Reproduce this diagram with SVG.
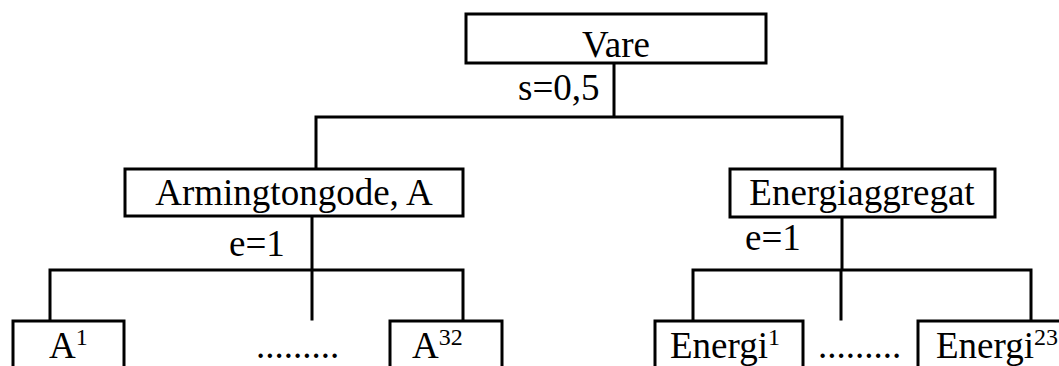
<svg xmlns="http://www.w3.org/2000/svg" width="1059" height="366" viewBox="0 0 1059 366">
<style>
.box{fill:#fff;stroke:#000;stroke-width:3}
.ln{fill:none;stroke:#000;stroke-width:3;stroke-linecap:square}
text{font-family:"Liberation Serif","Times New Roman",serif;font-size:37px;fill:#000}
.mid{text-anchor:middle}
.sup{font-size:24px}
</style>
<rect width="1059" height="366" fill="#fff"/>
<g id="connectors">
<path class="ln" d="M614,63 V117 M316,117 H842 M316,117 V169 M842,117 V169"/>
<path class="ln" d="M312,216 V270 M50,270 H463 M50,270 V321 M312,270 V319 M463,270 V321"/>
<path class="ln" d="M842,217 V270 M693,270 H1031 M693,270 V321 M841,270 V319 M1031,270 V321"/>
</g>
<g id="vare">
<rect class="box" x="466" y="14" width="300" height="49"/>
<text class="mid" x="616" y="57">Vare</text>
</g>
<text id="label-s" x="518" y="100">s=0,5</text>
<g id="armington">
<rect class="box" x="125" y="169" width="338" height="47"/>
<text class="mid" x="294" y="205">Armingtongode, A</text>
</g>
<g id="energiaggregat">
<rect class="box" x="730" y="169" width="265" height="48"/>
<text class="mid" x="862" y="205">Energiaggregat</text>
</g>
<text id="label-e-left" x="229" y="256">e=1</text>
<text id="label-e-right" x="745" y="250">e=1</text>
<g id="a1">
<rect class="box" x="13" y="321" width="111" height="80"/>
<text x="49" y="358">A<tspan class="sup" dy="-13">1</tspan></text>
</g>
<text id="dots-left" x="256" y="358">.........</text>
<g id="a32">
<rect class="box" x="390" y="321" width="112" height="80"/>
<text x="412" y="358">A<tspan class="sup" dy="-13">32</tspan></text>
</g>
<g id="energi1">
<rect class="box" x="655" y="321" width="148" height="80"/>
<text x="670" y="358">Energi<tspan class="sup" dy="-13">1</tspan></text>
</g>
<text id="dots-right" x="818" y="358">.........</text>
<g id="energi23">
<rect class="box" x="918" y="321" width="160" height="80"/>
<text x="936" y="358">Energi<tspan class="sup" dy="-13">23</tspan></text>
</g>
</svg>
